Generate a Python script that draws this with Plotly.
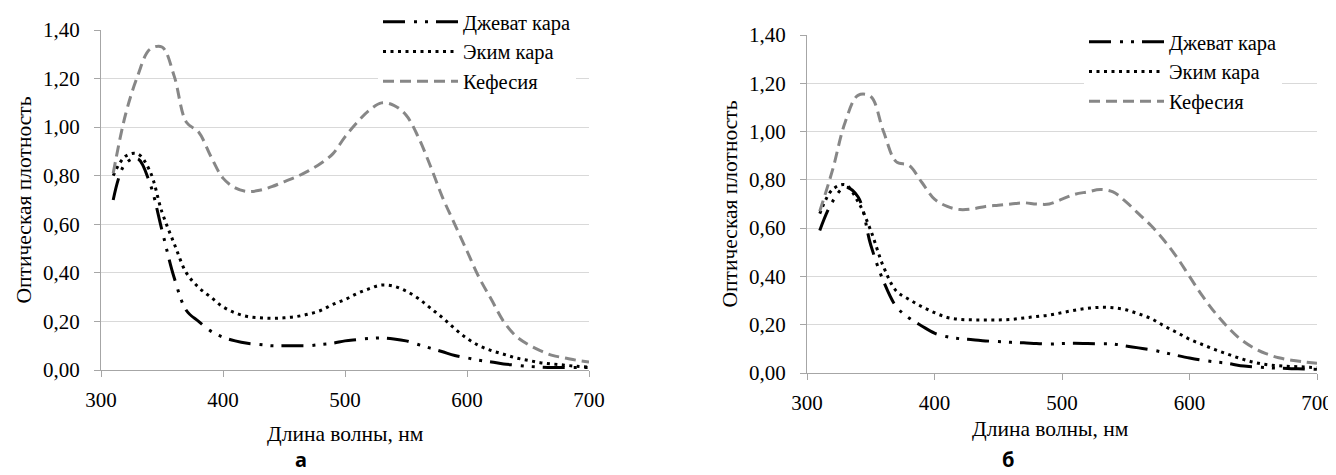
import plotly.graph_objects as go

# ---------------- data ----------------
WAVELENGTH = [310, 320, 330, 340, 350, 360, 370, 380, 390, 400,
              410, 420, 430, 440, 450, 460, 470, 480, 490, 500,
              510, 520, 530, 540, 550, 560, 570, 580, 590, 600,
              610, 620, 630, 640, 650, 660, 670, 680, 690, 700]

SERIES_NAMES = ["Джеват кара", "Эким кара", "Кефесия"]

# panel "а"
A_DZHEVAT = [0.70, 0.85, 0.87, 0.77, 0.575, 0.38, 0.245, 0.20, 0.16, 0.135,
             0.12, 0.11, 0.105, 0.10, 0.10, 0.10, 0.10, 0.105, 0.11, 0.12,
             0.125, 0.13, 0.132, 0.128, 0.12, 0.105, 0.09, 0.075, 0.06, 0.05,
             0.04, 0.033, 0.025, 0.02, 0.015, 0.012, 0.01, 0.01, 0.01, 0.01]
A_EKIM = [0.80, 0.88, 0.89, 0.82, 0.65, 0.52, 0.40, 0.34, 0.30, 0.26,
          0.235, 0.22, 0.215, 0.213, 0.215, 0.22, 0.23, 0.245, 0.27, 0.29,
          0.315, 0.335, 0.35, 0.345, 0.325, 0.295, 0.255, 0.215, 0.17, 0.13,
          0.10, 0.08, 0.065, 0.05, 0.04, 0.03, 0.025, 0.02, 0.015, 0.012]
A_KEFESIYA = [0.81, 1.05, 1.21, 1.32, 1.33, 1.21, 1.02, 0.98, 0.88, 0.79,
              0.75, 0.735, 0.74, 0.755, 0.775, 0.795, 0.82, 0.85, 0.89, 0.96,
              1.02, 1.07, 1.10, 1.09, 1.05, 0.96, 0.84, 0.71, 0.60, 0.49,
              0.38, 0.29, 0.20, 0.14, 0.105, 0.08, 0.06, 0.05, 0.04, 0.033]

# panel "б"
B_DZHEVAT = [0.59, 0.71, 0.77, 0.73, 0.53, 0.38, 0.275, 0.228, 0.195, 0.165,
             0.15, 0.142, 0.138, 0.133, 0.13, 0.127, 0.125, 0.122, 0.12, 0.122,
             0.123, 0.122, 0.121, 0.12, 0.112, 0.104, 0.096, 0.085, 0.073, 0.062,
             0.053, 0.046, 0.04, 0.03, 0.026, 0.022, 0.02, 0.018, 0.017, 0.015]
B_EKIM = [0.66, 0.76, 0.78, 0.71, 0.59, 0.44, 0.34, 0.305, 0.275, 0.25,
          0.23, 0.222, 0.22, 0.22, 0.22, 0.222, 0.228, 0.234, 0.24, 0.25,
          0.26, 0.268, 0.272, 0.27, 0.262, 0.245, 0.225, 0.195, 0.168, 0.14,
          0.118, 0.097, 0.078, 0.06, 0.045, 0.035, 0.03, 0.027, 0.025, 0.022]
B_KEFESIYA = [0.67, 0.84, 1.04, 1.15, 1.145, 1.00, 0.875, 0.86, 0.79, 0.72,
              0.69, 0.677, 0.68, 0.69, 0.695, 0.70, 0.705, 0.70, 0.70, 0.72,
              0.74, 0.75, 0.76, 0.75, 0.71, 0.66, 0.61, 0.55, 0.48, 0.40,
              0.32, 0.25, 0.19, 0.14, 0.105, 0.08, 0.063, 0.053, 0.046, 0.04]

X_TICKS = [300, 400, 500, 600, 700]
Y_TICKS = [0.0, 0.2, 0.4, 0.6, 0.8, 1.0, 1.2, 1.4]

X_TITLE = "Длина волны, нм"
Y_TITLE = "Оптическая плотность"
PANEL_LABELS = ["а", "б"]

# ---------------- styles ----------------
SERIF = "Liberation Serif"
STYLES = [
    dict(color="#000000", width=3, dash="22px,9px,3px,8px,3px,8px"),
    dict(color="#000000", width=3, dash="3px,4.5px"),
    dict(color="#878787", width=3, dash="11px,6px"),
]

# the page body has an 8 px margin: the figure is sized to fit the window
OFF = 8
W, H = 1336 - OFF, 475 - OFF


def px_x(p):          # screen pixel -> paper fraction
    return (p - OFF) / W


def px_y(p):
    return 1 - (p - OFF) / H


fig = go.Figure()

panels = [
    (["x", "y"], [A_DZHEVAT, A_EKIM, A_KEFESIYA], "legend"),
    (["x2", "y2"], [B_DZHEVAT, B_EKIM, B_KEFESIYA], "legend2"),
]
for (xa, ya), series, leg in panels:
    for name, vals, st in zip(SERIES_NAMES, series, STYLES):
        fig.add_trace(go.Scatter(
            x=WAVELENGTH, y=vals, name=name, mode="lines",
            line=dict(color=st["color"], width=st["width"], dash=st["dash"],
                      shape="spline", smoothing=1.0),
            xaxis=xa, yaxis=ya, legend=leg, showlegend=True,
        ))


def txt_font(size=21.5):
    return dict(family=SERIF, size=size, color="#000000")


axis_common = dict(
    showline=True, linecolor="#a6a6a6", linewidth=1,
    ticks="outside", ticklen=6, tickcolor="#a6a6a6",
    tickfont=txt_font(21), zeroline=False, automargin=False,
)
xaxis_common = dict(axis_common, range=[300, 700], tickvals=X_TICKS,
                    showgrid=False, ticklabelstandoff=5)
yaxis_common = dict(axis_common, range=[0, 1.4], tickvals=Y_TICKS,
                    tickformat=".2f", showgrid=True, gridcolor="#d9d9d9",
                    gridwidth=1, ticklabelstandoff=10)

legend_common = dict(xanchor="left", yanchor="top", bgcolor="white",
                     itemwidth=75, tracegroupgap=0, font=txt_font(20.5))

fig.update_layout(
    template="none",
    width=W, height=H,
    margin=dict(l=0, r=0, t=0, b=0, autoexpand=False),
    paper_bgcolor="white", plot_bgcolor="white",
    separators=", ",
    showlegend=True,
    xaxis=dict(xaxis_common, domain=[px_x(101), px_x(589)], anchor="y"),
    yaxis=dict(yaxis_common, domain=[px_y(370), px_y(30)], anchor="x",
               title=dict(text=Y_TITLE, font=txt_font(), standoff=5)),
    xaxis2=dict(xaxis_common, domain=[px_x(807), px_x(1317)], anchor="y2"),
    yaxis2=dict(yaxis_common, domain=[px_y(373), px_y(35)], anchor="x2",
                title=dict(text=Y_TITLE, font=txt_font(), standoff=5)),
    legend=dict(legend_common, x=px_x(378), y=px_y(2)),
    legend2=dict(legend_common, x=px_x(1084), y=px_y(22)),
    annotations=[
        dict(text=X_TITLE, x=px_x(345), y=px_y(434), xref="paper", yref="paper",
             showarrow=False, xanchor="center", yanchor="middle", font=txt_font()),
        dict(text=X_TITLE, x=px_x(1050), y=px_y(429), xref="paper", yref="paper",
             showarrow=False, xanchor="center", yanchor="middle", font=txt_font()),
        dict(text="<b>" + PANEL_LABELS[0] + "</b>", x=px_x(301), y=0,
             xref="paper", yref="paper", showarrow=False,
             xanchor="center", yanchor="bottom",
             font=dict(family="Noto Sans", size=20, color="#000000")),
        dict(text="<b>" + PANEL_LABELS[1] + "</b>", x=px_x(1008), y=0,
             xref="paper", yref="paper", showarrow=False,
             xanchor="center", yanchor="bottom",
             font=dict(family="Noto Sans", size=20, color="#000000")),
    ],
)

fig.write_html("out.html")
